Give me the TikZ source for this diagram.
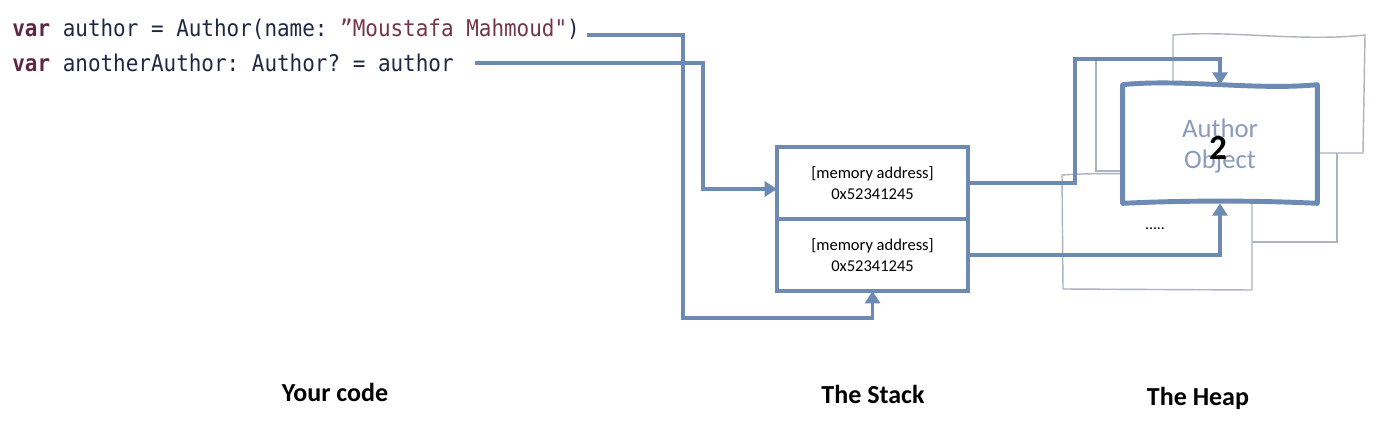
\documentclass[tikz,border=0pt]{standalone}
\usepackage{fontspec}
\setmainfont{Carlito}
\newfontfamily\codefont[FakeStretch=0.91]{DejaVu Sans Mono}
\usepackage{xcolor}
\usetikzlibrary{positioning,arrows.meta,calc}

\definecolor{linkblue}{RGB}{108,138,180}
\definecolor{ghostgray}{RGB}{172,178,192}
\definecolor{objtext}{RGB}{138,155,188}
\definecolor{kwcolor}{RGB}{96,38,72}
\definecolor{strcolor}{RGB}{118,52,72}
\definecolor{plaincolor}{RGB}{30,40,66}

\tikzset{
  code/.style={anchor=base west, inner sep=0, text=plaincolor, font=\codefont\fontsize{13.1}{15}\selectfont},
  link/.style={draw=linkblue, line width=2.1pt, -{Triangle[width=8.5pt,length=7pt]}},
  cell/.style={draw=linkblue, line width=2.8pt, fill=white, outer sep=0pt, minimum width=3.82cm, minimum height=1.44cm,
    align=center, font=\fontsize{9.4}{12}\selectfont},
  ghost/.style={draw=ghostgray, line width=0.8pt, fill=white},
  caption/.style={font=\bfseries\fontsize{14.8}{16}\selectfont}
}

\begin{document}
\frenchspacing
\begin{tikzpicture}[x=0.02cm, y=-0.02cm]
  \useasboundingbox (0,0) rectangle (1400,447);

  % Your code
  \node[code] (codeA) at (12,36) {\textcolor{kwcolor}{\bfseries var} author = Author(name: \textcolor{strcolor}{”Moustafa Mahmoud"})};
  \node[code] (codeB) at (12,71) {\textcolor{kwcolor}{\bfseries var} anotherAuthor: Author? = author};
  \coordinate (outA) at (587,35);
  \coordinate (outB) at (475,63);

  % The Stack
  \node[cell] (cellA) at (872.5,183) {[memory address]\\0x52341245};
  \node[cell, below=0pt of cellA] (cellB) {[memory address]\\0x52341245};

  % The Heap (other objects behind)
  \draw[ghost] (1150,120) rectangle (1337,242);
  \draw[ghost] (1096,60) rectangle (1300,171);
  \draw[ghost] (1173,35) .. controls (1230,30) and (1300,42) .. (1365,35) -- (1363,153) -- (1173,153) -- cycle;
  \draw[ghost] (1062,175) .. controls (1120,171) and (1200,177) .. (1252,174) -- (1252,290) -- (1063,289) -- cycle;
  \node[font=\fontsize{9}{10}\selectfont] (dots) at (1155,229) {.....};

  % Author object
  \node[minimum width=3.88cm, minimum height=2.36cm] (author) at (1220,144) {};
  \draw[draw=linkblue, line width=2.8pt, fill=white, line join=round]
    (author.north west) .. controls ($(author.north west)+(60,-6)$) and ($(author.north east)+(-60,6)$) .. (author.north east)
    -- (author.south east) .. controls ($(author.south east)+(-60,-3)$) and ($(author.south west)+(60,-3)$) .. (author.south west) -- cycle;
  \node[text=objtext, align=center, font=\fontsize{15.2}{18}\selectfont] (objname) at (1220,146) {Author\\Object};
  \node[font=\bfseries\fontsize{20}{22}\selectfont] (count) at (1218,148) {2};

  % Connectors
  \coordinate (dropA) at (683,318);
  \coordinate (dropB) at (703,189);
  \coordinate (riseA) at (1075,59);
  \draw[link] (outA) -| (dropA) -| (cellB.south);
  \draw[link] (outB) -| (dropB) -- (cellA.west |- dropB);
  \draw[link] (cellA.east) -| (riseA) -| (author.north);
  \draw[link] (cellB.east) -| (author.south);

  % Captions
  \node[caption] (capcode) at (335,392) {Your code};
  \node[caption] (capstack) at (873,394) {The Stack};
  \node[caption] (capheap) at (1198,398) {The Heap};
\end{tikzpicture}
\end{document}
